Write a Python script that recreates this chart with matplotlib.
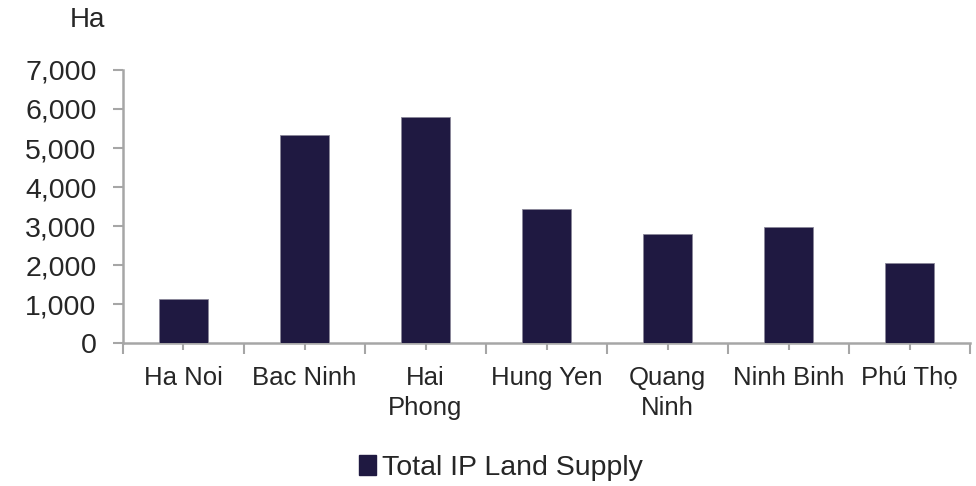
import matplotlib
matplotlib.use("Agg")
import matplotlib.pyplot as plt
from matplotlib.ticker import FuncFormatter, FixedLocator
from matplotlib.patches import Patch

categories = ["Ha Noi", "Bac Ninh", "Hai\nPhong", "Hung Yen", "Quang\nNinh", "Ninh Binh", "Phú Thọ"]
values = [1130, 5330, 5800, 3450, 2790, 2990, 2060]
series_name = "Total IP Land Supply"
y_ticks = [0, 1000, 2000, 3000, 4000, 5000, 6000, 7000]

plt.rcParams['font.family'] = ['Liberation Sans', 'DejaVu Sans']
text_color = "#262626"
bar_color = "#1f1941"
axis_color = "#a6a6a6"

fig = plt.figure(figsize=(9.76, 4.86), dpi=100)
ax = fig.add_axes([0.126, 0.2936, 0.868, 0.5625])

x = list(range(len(categories)))
ax.bar(x, values, width=0.4, color=bar_color, edgecolor="#8a8799", linewidth=0.6, zorder=3)

ax.set_xlim(-0.5, len(categories) - 0.5)
ax.set_ylim(0, 7000)
ax.set_yticks(y_ticks)
ax.yaxis.set_major_formatter(FuncFormatter(lambda v, p: f"{int(v):,}"))

ax.xaxis.set_major_locator(FixedLocator([i - 0.5 for i in range(len(categories) + 1)]))
ax.xaxis.set_minor_locator(FixedLocator(x))
ax.set_xticklabels([""] * (len(categories) + 1))
ax.set_xticklabels(categories, minor=True)

ax.tick_params(axis='y', which='major', length=7, width=1.5, color=axis_color,
               labelsize=20.5, labelcolor=text_color, pad=12)
ax.tick_params(axis='x', which='major', length=8, width=1.5, color=axis_color)
ax.tick_params(axis='x', which='minor', length=5, width=1.5, color=axis_color,
               labelsize=18.5, labelcolor=text_color, pad=11)
for lab in ax.get_xticklabels(minor=True):
    lab.set_horizontalalignment('center')
    lab.set_multialignment('center')
    lab.set_linespacing(1.35)

for s in ["top", "right"]:
    ax.spines[s].set_visible(False)
for s in ["left", "bottom"]:
    ax.spines[s].set_color(axis_color)
    ax.spines[s].set_linewidth(1.8)

fig.text(70 / 976, 1 - 20 / 486, "Ha", fontsize=20, color=text_color, ha='left', va='center')

handle = Patch(facecolor=bar_color, edgecolor=bar_color)
fig.legend([handle], [series_name], loc='center', bbox_to_anchor=(501 / 976, 1 - 468 / 486),
           frameon=False, fontsize=20.5, labelcolor=text_color, handlelength=0.6, handleheight=0.65,
           handletextpad=0.2)

fig.savefig("out.png", dpi=100)
